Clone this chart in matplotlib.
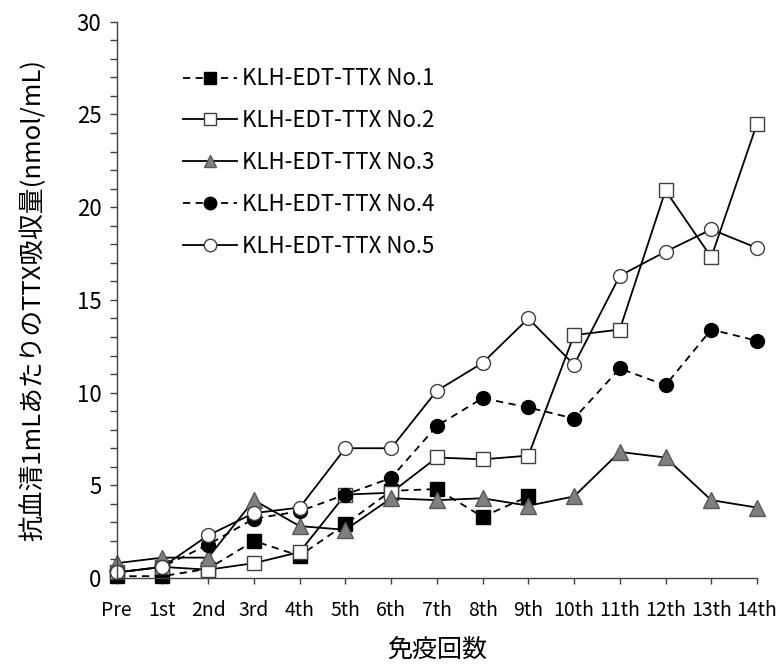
import matplotlib
matplotlib.use("Agg")
import matplotlib.pyplot as plt
from matplotlib.ticker import MultipleLocator

plt.rcParams['font.family'] = ['Noto Sans CJK JP', 'DejaVu Sans']

# Immunization rounds
rounds = ["Pre", "1st", "2nd", "3rd", "4th", "5th", "6th", "7th",
          "8th", "9th", "10th", "11th", "12th", "13th", "14th"]

# TTX uptake per 1 mL antiserum (nmol/mL)
no1 = [0.1, 0.1, 0.5, 2.0, 1.2, 2.9, 4.7, 4.8, 3.3, 4.4]
no2 = [0.3, 0.6, 0.45, 0.8, 1.4, 4.5, 4.6, 6.5, 6.4, 6.6, 13.1, 13.4, 20.9, 17.3, 24.5]
no3 = [0.8, 1.1, 1.1, 4.2, 2.8, 2.6, 4.3, 4.2, 4.3, 3.9, 4.4, 6.8, 6.5, 4.2, 3.8]
no4 = [0.3, 0.6, 1.8, 3.2, 3.6, 4.5, 5.4, 8.2, 9.7, 9.2, 8.6, 11.3, 10.4, 13.4, 12.8]
no5 = [0.3, 0.6, 2.3, 3.5, 3.8, 7.0, 7.0, 10.1, 11.6, 14.0, 11.5, 16.3, 17.6, 18.8, 17.8]

labels = ["KLH-EDT-TTX No.1", "KLH-EDT-TTX No.2", "KLH-EDT-TTX No.3",
          "KLH-EDT-TTX No.4", "KLH-EDT-TTX No.5"]

fig = plt.figure(figsize=(7.78, 6.67), dpi=100)
ax = fig.add_axes([0.150, 0.1334, 0.823, 0.834])

lw = 1.3
dash = (0, (4, 3))
ms = 10

common = dict(color="black", lw=lw, clip_on=False, mew=1)
ax.plot(range(len(no1)), no1, linestyle=dash, marker="s", ms=ms,
        mfc="black", mec="black", label=labels[0], **common)
ax.plot(range(len(no2)), no2, linestyle="-", marker="s", ms=ms,
        mfc="white", mec="#404040", label=labels[1], **common)
ax.plot(range(len(no3)), no3, linestyle="-", marker="^", ms=ms + 2,
        mfc="#7f7f7f", mec="#595959", label=labels[2], **common)
ax.plot(range(len(no4)), no4, linestyle=dash, marker="o", ms=ms,
        mfc="black", mec="black", label=labels[3], **common)
ax.plot(range(len(no5)), no5, linestyle="-", marker="o", ms=ms,
        mfc="white", mec="#404040", label=labels[4], **common)

ax.set_xlim(0, 14)
ax.set_ylim(0, 30)
ax.set_xticks(range(len(rounds)))
ax.set_xticklabels(rounds)
ax.yaxis.set_major_locator(MultipleLocator(5))
ax.yaxis.set_minor_locator(MultipleLocator(1))

for side in ("top", "right"):
    ax.spines[side].set_visible(False)
for side in ("left", "bottom"):
    ax.spines[side].set_color("#404040")
    ax.spines[side].set_linewidth(1.0)

ax.tick_params(axis="y", which="both", direction="out", length=5, width=1,
               color="#404040", labelsize=16, pad=6)
ax.tick_params(axis="x", which="major", direction="out", length=4, width=1,
               color="#404040", labelsize=14, pad=12)

ax.set_ylabel("抗血清1mLあたりのTTX吸収量(nmol/mL)", fontsize=18.5)
ax.yaxis.set_label_coords(-0.11, 0.5)
ax.set_xlabel("免疫回数", fontsize=18)
ax.xaxis.set_label_coords(0.5, -0.106)

leg = ax.legend(loc="upper left", bbox_to_anchor=(0.103, 0.918), frameon=False,
                fontsize=16, handlelength=2.45, handletextpad=0.2,
                labelspacing=0.85, borderaxespad=0, borderpad=0)
for h in leg.legend_handles:
    h.set_markersize(9)

fig.savefig("out.png", dpi=100)
